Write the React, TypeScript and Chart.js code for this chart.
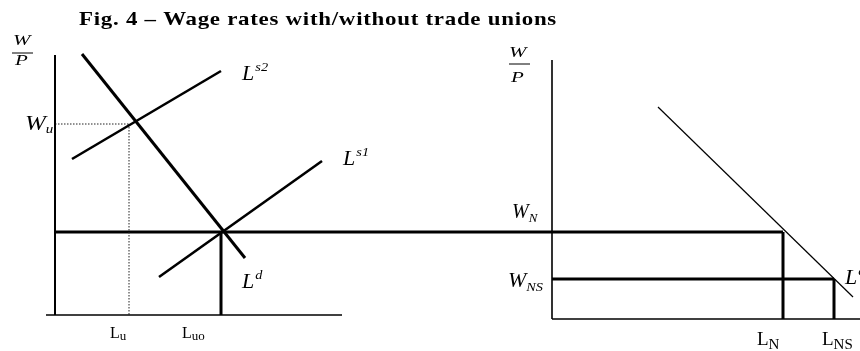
import React, { useEffect, useRef } from "react";
import { Chart, registerables } from "chart.js";

Chart.register(...registerables);

type Pt = { x: number; y: number };

// ---- Data (diagram units: x = labour, y = real wage W/P) ----
const TITLE = "Fig. 4 – Wage rates with/without trade unions";

// Left panel: with trade union
const leftYAxis: Pt[] = [{ x: 55, y: 296 }, { x: 55, y: 36 }];
const leftXAxis: Pt[] = [{ x: 46, y: 36 }, { x: 342, y: 36 }];
const demandLeft: Pt[] = [{ x: 82, y: 297 }, { x: 245, y: 93 }];
const supplyTwo: Pt[] = [{ x: 72, y: 192 }, { x: 221, y: 280 }];
const supplyOne: Pt[] = [{ x: 159, y: 74 }, { x: 322, y: 190 }];
const wuGuideH: Pt[] = [{ x: 55, y: 227 }, { x: 129, y: 227 }];
const wuGuideV: Pt[] = [{ x: 129, y: 227 }, { x: 129, y: 36 }];
const luoDrop: Pt[] = [{ x: 221, y: 119 }, { x: 221, y: 36 }];

// Shared wage W_N line (spans both panels)
const wageNLine: Pt[] = [{ x: 54, y: 119 }, { x: 783, y: 119 }];

// Right panel: without trade union
const rightYAxis: Pt[] = [{ x: 552, y: 291 }, { x: 552, y: 32 }];
const rightXAxis: Pt[] = [{ x: 552, y: 32 }, { x: 860, y: 32 }];
const wageNSLine: Pt[] = [{ x: 552, y: 72 }, { x: 834, y: 72 }];
const lnDrop: Pt[] = [{ x: 783, y: 119 }, { x: 783, y: 32 }];
const lnsDrop: Pt[] = [{ x: 834, y: 72 }, { x: 834, y: 32 }];
const demandRight: Pt[] = [{ x: 658, y: 244 }, { x: 853, y: 54 }];

// Fraction bars of the W/P axis titles
const leftFracBar: Pt[] = [{ x: 12, y: 298 }, { x: 33, y: 298 }];
const rightFracBar: Pt[] = [{ x: 509, y: 287 }, { x: 530, y: 287 }];

// ---- Text labels (anchor = baseline-left, in diagram units) ----
type Label = {
  main: string;
  sub?: string;
  sup?: string;
  x: number;
  y: number;
  size: number;
  italic: boolean;
  subSize?: number;
  subDy?: number;
  supDy?: number;
  sx?: number;
};

const LABELS: Label[] = [
  { main: "W", x: 13, y: 306, size: 15, italic: true, sx: 1.4 },
  { main: "P", x: 15, y: 286, size: 15, italic: true, sx: 1.4 },
  { main: "W", sub: "u", x: 25, y: 221, size: 20, italic: true, subSize: 12, subDy: 3, sx: 1.25 },
  { main: "L", sup: "s2", x: 242, y: 271, size: 20, italic: true, subSize: 13, supDy: -9, sx: 1.1 },
  { main: "L", sup: "s1", x: 343, y: 186, size: 20, italic: true, subSize: 13, supDy: -9, sx: 1.1 },
  { main: "L", sup: "d", x: 242, y: 63, size: 20, italic: true, subSize: 13, supDy: -9, sx: 1.1 },
  { main: "L", sub: "u", x: 110, y: 13, size: 16, italic: false, subSize: 13, subDy: 2 },
  { main: "L", sub: "uo", x: 182, y: 13, size: 16, italic: false, subSize: 13, subDy: 2 },
  { main: "W", x: 509, y: 294, size: 15, italic: true, sx: 1.4 },
  { main: "P", x: 511, y: 269, size: 15, italic: true, sx: 1.4 },
  { main: "W", sub: "N", x: 512, y: 133, size: 20, italic: true, subSize: 13, subDy: 4 },
  { main: "W", sub: "NS", x: 508, y: 64, size: 20, italic: true, subSize: 13, subDy: 4, sx: 1.1 },
  { main: "L", sup: "d", x: 845, y: 67, size: 20, italic: true, subSize: 13, supDy: -9, sx: 1.1 },
  { main: "L", sub: "N", x: 757, y: 6, size: 19, italic: false, subSize: 15, subDy: 4 },
  { main: "L", sub: "NS", x: 822, y: 6, size: 19, italic: false, subSize: 15, subDy: 4 },
];

const TITLE_POS = { x: 79, y: 326 };
const TITLE_WIDTH = 478;

const SERIF = '"Liberation Serif", "DejaVu Serif", serif';
const TITLE_FONT = 'bold 19px "Liberation Serif", "DejaVu Serif", serif';

function seg(data: Pt[], width: number, dash: number[] = [], color = "#000") {
  return {
    data,
    showLine: true,
    borderColor: color,
    borderWidth: width,
    borderDash: dash,
    pointRadius: 0,
    pointHoverRadius: 0,
    fill: false,
    tension: 0,
    clip: false as const,
  };
}

const textPlugin = {
  id: "diagramText",
  afterDraw(chart: any) {
    const { ctx, scales } = chart;
    const xs = scales.x;
    const ys = scales.y;
    ctx.save();
    ctx.fillStyle = "#000";
    ctx.textBaseline = "alphabetic";
    ctx.textAlign = "left";

    // Title: slightly spaced and stretched horizontally to the measured width
    ctx.font = TITLE_FONT;
    if ("letterSpacing" in ctx) (ctx as any).letterSpacing = "0.6px";
    const natural = ctx.measureText(TITLE).width;
    const tsx = TITLE_WIDTH / natural;
    ctx.save();
    ctx.translate(xs.getPixelForValue(TITLE_POS.x), ys.getPixelForValue(TITLE_POS.y));
    ctx.scale(tsx, 1);
    ctx.fillText(TITLE, 0, 0);
    ctx.restore();
    if ("letterSpacing" in ctx) (ctx as any).letterSpacing = "0px";

    for (const l of LABELS) {
      const px = xs.getPixelForValue(l.x);
      const py = ys.getPixelForValue(l.y);
      const st = l.italic ? "italic " : "";
      ctx.save();
      ctx.translate(px, py);
      ctx.scale(l.sx ?? 1, 1);
      ctx.font = `${st}${l.size}px ${SERIF}`;
      ctx.fillText(l.main, 0, 0);
      const w = ctx.measureText(l.main).width;
      if (l.sub) {
        ctx.font = `${st}${l.subSize ?? 10}px ${SERIF}`;
        ctx.fillText(l.sub, w, l.subDy ?? 3);
      }
      if (l.sup) {
        ctx.font = `${st}${l.subSize ?? 10}px ${SERIF}`;
        ctx.fillText(l.sup, w + 1, l.supDy ?? -9);
      }
      ctx.restore();
    }
    ctx.restore();
  },
};

export default function App() {
  const ref = useRef<HTMLCanvasElement | null>(null);

  useEffect(() => {
    if (!ref.current) return;
    const chart = new Chart(ref.current, {
      type: "scatter",
      data: {
        datasets: [
          seg(leftYAxis, 2),
          seg(leftXAxis, 1.6),
          seg(demandLeft, 3),
          seg(supplyTwo, 2.6),
          seg(supplyOne, 2.6),
          seg(wuGuideH, 1, [1.5, 1.5], "#222"),
          seg(wuGuideV, 1, [1.5, 1.5], "#222"),
          seg(luoDrop, 3),
          seg(wageNLine, 3),
          seg(rightYAxis, 1.6),
          seg(rightXAxis, 1.6),
          seg(wageNSLine, 3),
          seg(lnDrop, 3),
          seg(lnsDrop, 3),
          seg(demandRight, 1.2),
          seg(leftFracBar, 1),
          seg(rightFracBar, 1),
        ] as any,
      },
      options: {
        responsive: false,
        maintainAspectRatio: false,
        animation: false,
        events: [],
        layout: { padding: 0 },
        plugins: {
          legend: { display: false },
          tooltip: { enabled: false },
          title: { display: false },
        },
        scales: {
          x: { type: "linear", min: 0, max: 860, display: false },
          y: { type: "linear", min: 0, max: 351, display: false },
        },
      },
      plugins: [textPlugin],
    });
    return () => chart.destroy();
  }, []);

  return (
    <div style={{ position: "absolute", left: 0, top: 0, width: 860, height: 351, background: "#fff" }}>
      <canvas ref={ref} width={860} height={351} style={{ display: "block" }} />
    </div>
  );
}
